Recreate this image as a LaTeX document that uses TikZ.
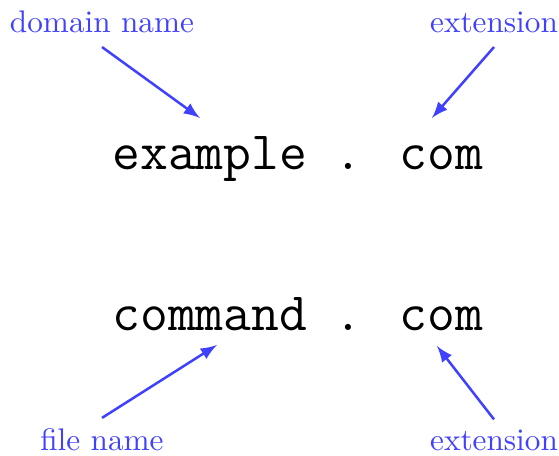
\documentclass[tikz,border=0pt]{standalone}
\usepackage{tikz}

\begin{document}
\begin{tikzpicture}[
    etiqueta/.style={blue!75, anchor=base},
    nombre/.style={font=\LARGE\ttfamily, anchor=base},
    flecha/.style={->, >=latex, thick, blue!75}
  ]
  % Marco de la figura
  \useasboundingbox (0,0) rectangle (6.287,5.128);

  % Textos principales
  \node[nombre] (ejemplo) at (3.35,3.217) {example . com};
  \node[nombre] (comando) at (3.35,1.406) {command . com};

  % Etiquetas
  \node[etiqueta] (dominio) at (1.147,4.757) {domain name};
  \node[etiqueta] (extsup) at (5.556,4.757) {extension};
  \node[etiqueta] (archivo) at (1.147,0.056) {file name};
  \node[etiqueta] (extinf) at (5.556,0.056) {extension};

  % Puntas de las flechas
  \coordinate (pdominio) at (2.249,3.801);
  \coordinate (pextsup) at (4.858,3.801);
  \coordinate (parchivo) at (2.440,1.248);
  \coordinate (pextinf) at (4.914,1.237);

  % Flechas
  \draw[flecha] (dominio.south) ++(0,-0.03) -- (pdominio);
  \draw[flecha] (extsup.south) ++(0,-0.03) -- (pextsup);
  \draw[flecha] (archivo.north) -- (parchivo);
  \draw[flecha] (extinf.north) -- (pextinf);
\end{tikzpicture}
\end{document}
